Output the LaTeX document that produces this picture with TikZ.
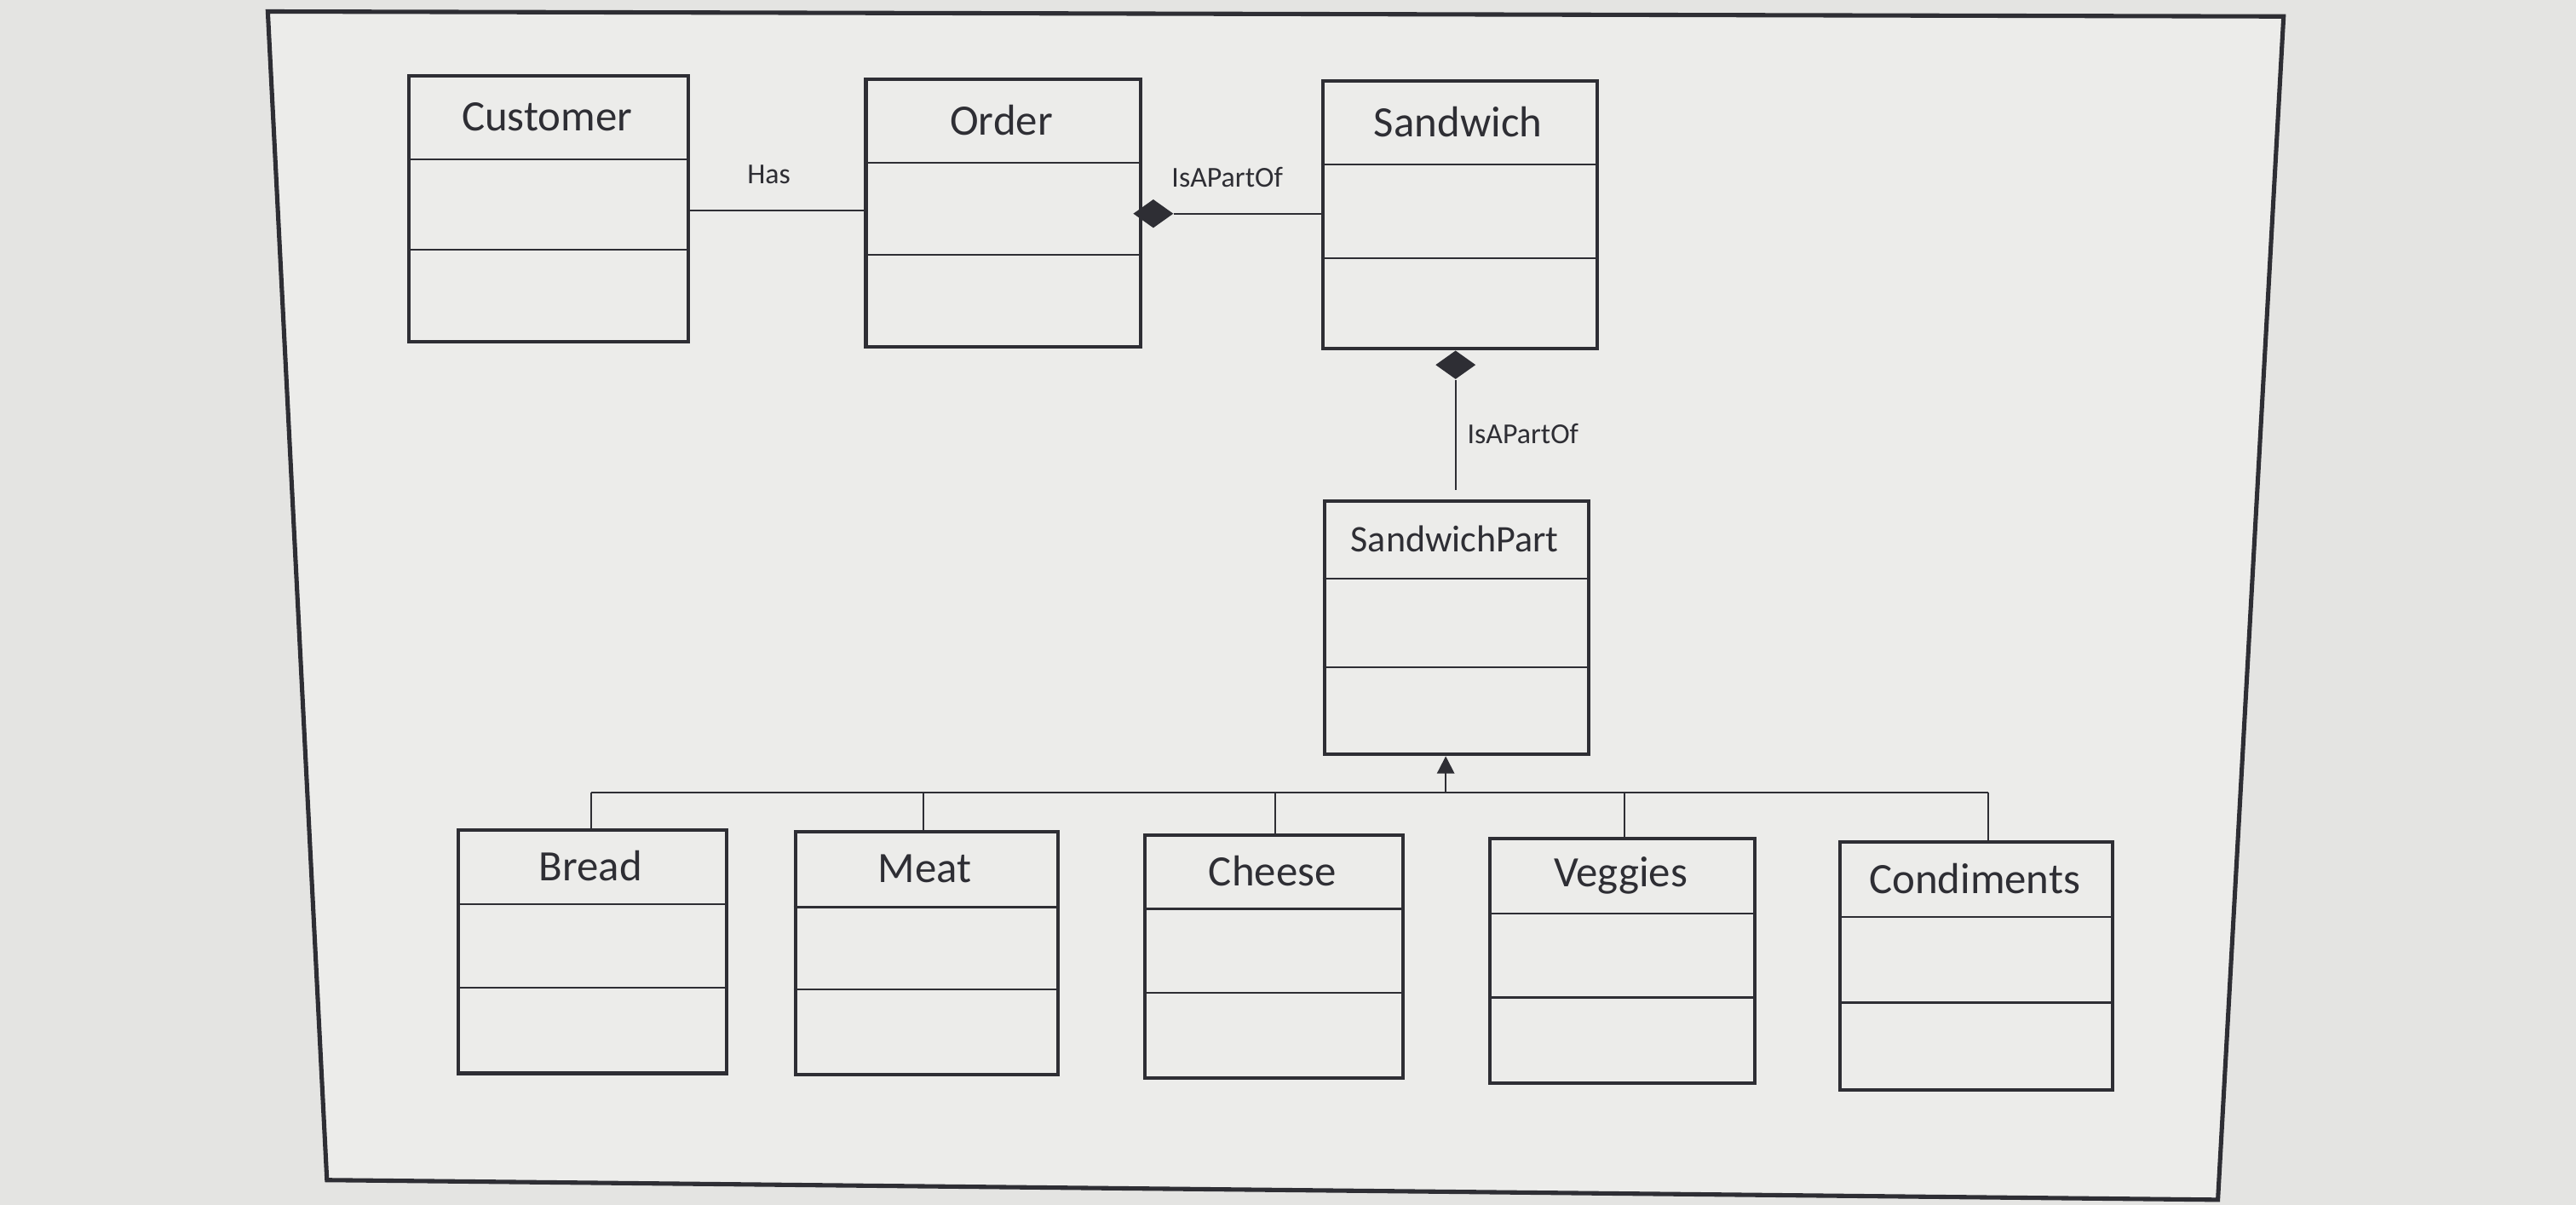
\documentclass[tikz,border=0pt]{standalone}
\usepackage{fontspec}
\setmainfont{Carlito}
\usetikzlibrary{shapes.geometric,arrows.meta}
\definecolor{bgc}{HTML}{E4E4E2}
\definecolor{pap}{HTML}{ECECEA}
\definecolor{ink}{HTML}{2E2E34}
\tikzset{
  cls/.style={draw=ink,line width=1.2pt,anchor=north west,inner sep=0pt},
  ttl/.style={font=\fontsize{15}{17}\selectfont,text=ink},
  lbl/.style={font=\fontsize{10}{12}\selectfont,text=ink},
  ln/.style={draw=ink,line width=0.6pt},
  dia/.style={diamond,fill=ink,inner sep=0pt,minimum width=14pt,minimum height=10pt}
}
\newcommand\umlbox[8]{%
  \node[cls,minimum width={(#3-#2)*0.02cm},minimum height={(#7-#4)*0.02cm}] (#1) at (#2,#4) {};
  \draw[ink,line width=0.7pt] (#2,#5) -- (#3,#5) (#2,#6) -- (#3,#6);
  \node[ttl] (#1t) at ({(#2+#3)/2},{(#4+#5)/2}) {#8};}
\begin{document}
\begin{tikzpicture}[x=0.02cm,y=-0.02cm]
\useasboundingbox (0,0) rectangle (1568,733);
\fill[bgc] (0,0) rectangle (1568,733);
\draw[ink,line width=1.5pt,fill=pap] (163,7) -- (1390,10) -- (1350,730) -- (199,718) -- cycle;
\umlbox{cust}{248}{418}{45}{97}{152}{207}{Customer}
\umlbox{ord}{526}{693}{47}{99}{155}{210}{Order}
\umlbox{sand}{804}{971}{48}{100}{157}{211}{Sandwich}
\umlbox{part}{805}{966}{304}{352}{406}{458}{\fontsize{13}{15}\selectfont SandwichPart}
\umlbox{bread}{278}{441}{504}{550}{601}{652}{Bread}
\umlbox{meat}{483}{643}{505}{552}{602}{653}{Meat}
\umlbox{chee}{696}{853}{507}{553}{604}{655}{Cheese}
\umlbox{veg}{906}{1067}{509}{556}{607}{658}{Veggies}
\umlbox{cond}{1119}{1285}{511}{558}{610}{662}{Condiments}
% associations
\draw[ln] (cust.east|-0,128) -- (ord.west|-0,128);
\node[lbl] (has) at (468,106) {Has};
\node[dia] (d1) at (702,130) {};
\draw[ln] (d1.east) -- (sand.west|-0,130);
\node[lbl] (l1) at (747,108) {IsAPartOf};
\node[dia] (d2) at (886,222) {};
\draw[ln] (d2.south) -- (886,298);
\node[lbl] (l2) at (927,264) {IsAPartOf};
% inheritance
\coordinate (bus) at (880,482);
\draw[ln] (360,482) -- (1210,482);
\draw[ln,-{Triangle[width=6pt,length=6pt]}] (bus) -- (part.south-|bus);
\foreach \b/\x in {bread/360,meat/562,chee/776,veg/989,cond/1210}
  \draw[ln] (\x,482) -- (\b.north-|\x,0);
\end{tikzpicture}
\end{document}
